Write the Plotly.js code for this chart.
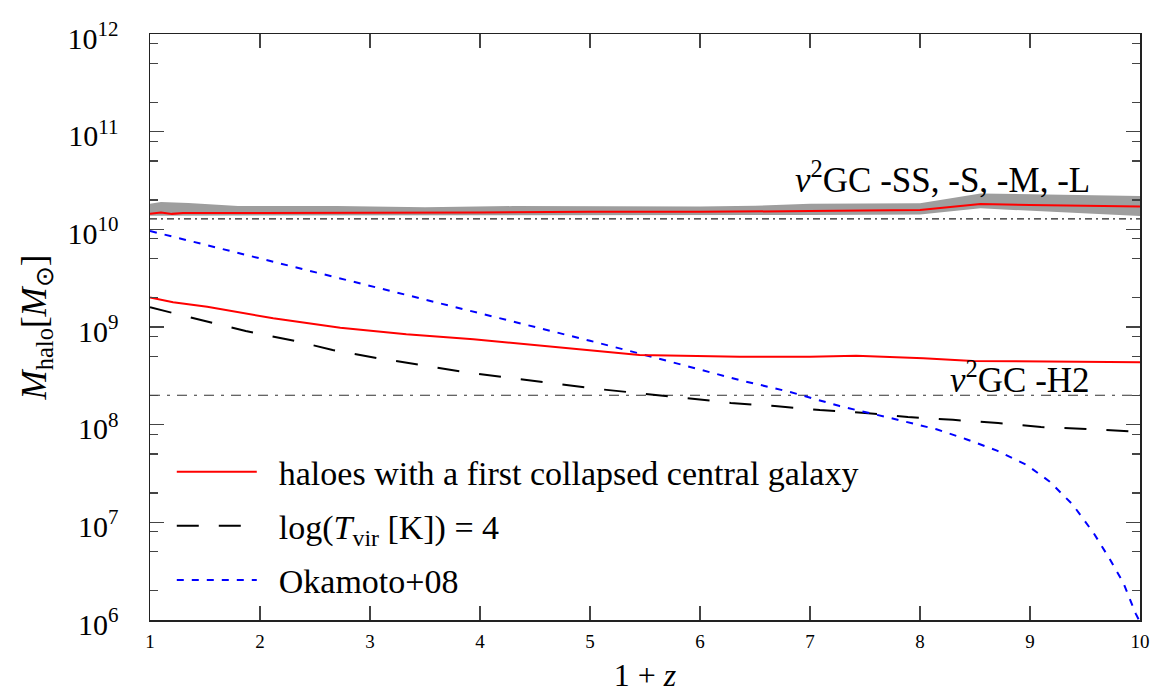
<!DOCTYPE html>
<html>
<head>
<meta charset="utf-8">
<script src="https://cdn.plot.ly/plotly-3.0.1.min.js"></script>
<style>html,body{margin:0;padding:0;background:#fff;}#chart{width:1158px;height:693px;}</style>
</head>
<body>
<div id="chart"></div>
<script>
// ---- data ----
// nu2GC -SS/-S/-M/-L spread (grey band)
const bandTopX = [1.0, 1.1, 1.35, 1.8, 2.7, 3.5, 4.3, 5.5, 6.0, 6.5, 7.0, 8.0, 8.55, 10.0];
const bandTopY = [1.83e10, 1.91e10, 1.86e10, 1.73e10, 1.73e10, 1.68e10, 1.73e10, 1.71e10, 1.71e10, 1.74e10, 1.83e10, 1.85e10, 2.33e10, 2.19e10];
const bandBotX = [1.0, 4.0, 7.0, 8.0, 8.55, 10.0];
const bandBotY = [1.38e10, 1.39e10, 1.40e10, 1.42e10, 1.64e10, 1.37e10];

// red: haloes with a first collapsed central galaxy (upper: nu2GC -SS.., lower: nu2GC -H2)
const redUpX = [1.0, 1.1, 1.2, 1.3, 2, 3, 4, 5, 6, 7, 8, 8.55, 9, 10];
const redUpY = [1.44e10, 1.49e10, 1.44e10, 1.47e10, 1.47e10, 1.47e10, 1.49e10, 1.51e10, 1.51e10, 1.54e10, 1.58e10, 1.82e10, 1.77e10, 1.71e10];
const redLoX = [1.0, 1.21, 1.52, 2.12, 2.73, 3.33, 3.94, 4.55, 5.15, 5.45, 6.36, 7.0, 7.42, 8.03, 8.48, 10.0];
const redLoY = [2.00e9, 1.79e9, 1.61e9, 1.23e9, 9.84e8, 8.41e8, 7.48e8, 6.40e8, 5.58e8, 5.16e8, 4.97e8, 4.95e8, 5.07e8, 4.79e8, 4.49e8, 4.36e8];

// black dashed: log(Tvir [K]) = 4
const tvirX = [1.0, 1.48, 1.87, 2.32, 2.66, 3.06, 3.46, 3.86, 4.27, 4.66, 5.07, 5.88, 6.28, 6.68, 7.09, 7.5, 7.89, 8.3, 8.71, 9.1, 9.51, 10.0];
const tvirY = [1.59e9, 1.18e9, 9.10e8, 7.19e8, 5.82e8, 4.82e8, 4.08e8, 3.46e8, 3.01e8, 2.67e8, 2.32e8, 1.87e8, 1.67e8, 1.55e8, 1.41e8, 1.32e8, 1.20e8, 1.12e8, 1.04e8, 9.46e7, 9.04e7, 8.41e7];

// blue dotted: Okamoto+08
const okaX = [1.0, 1.5, 2.0, 2.5, 3.0, 3.5, 4.0, 4.5, 5.0, 5.45, 5.9, 6.36, 6.82, 7.27, 7.73, 8.15, 8.42, 8.70, 8.97, 9.18, 9.39, 9.58, 9.73, 9.85, 9.96, 10.0];
const okaY = [9.62e9, 6.97e9, 5.04e9, 3.65e9, 2.64e9, 1.91e9, 1.38e9, 1.00e9, 7.23e8, 5.35e8, 3.93e8, 2.86e8, 2.16e8, 1.55e8, 1.17e8, 8.97e7, 7.10e7, 5.42e7, 3.86e7, 2.61e7, 1.51e7, 7.73e6, 4.12e6, 2.38e6, 1.17e6, 9.5e5];

// dash-dot resolution limits
const limX = [1, 10];
const limUpper = 1.28e10;
const limLower = 2.0e8;

// axis ticks
const xTicks = [1, 2, 3, 4, 5, 6, 7, 8, 9, 10];
const yTicks = [1e6, 1e7, 1e8, 1e9, 1e10, 1e11, 1e12];
const yTickText = ['10<sup>6</sup>', '10<sup>7</sup>', '10<sup>8</sup>', '10<sup>9</sup>', '10<sup>10</sup>', '10<sup>11</sup>', '10<sup>12</sup>'];
const yMinor = [2e6, 5e6, 8e6, 2e7, 5e7, 8e7, 2e8, 5e8, 8e8, 2e9, 5e9, 8e9, 2e10, 5e10, 8e10, 2e11, 5e11, 8e11];

const legendNames = ['haloes with a first collapsed central galaxy', 'log(<i>T</i><sub>vir</sub> [K]) = 4', 'Okamoto+08'];

// ---- traces ----
const FONT = 'Liberation Serif, Times New Roman, serif';
const GAP = '\u00a0\u00a0';
const traces = [
  {x: bandTopX.concat(bandBotX.slice().reverse()), y: bandTopY.concat(bandBotY.slice().reverse()),
   mode: 'lines', fill: 'toself', fillcolor: '#9e9e9e', line: {width: 0, color: '#9e9e9e'},
   showlegend: false, hoverinfo: 'skip'},
  {x: limX, y: [limUpper, limUpper], mode: 'lines', line: {color: '#222', width: 1.3, dash: '7px,4px,2px,4px'}, showlegend: false},
  {x: limX, y: [limLower, limLower], mode: 'lines', line: {color: '#333', width: 1.2, dash: '10px,7px,3px,7px'}, showlegend: false},
  {x: redUpX, y: redUpY, mode: 'lines', line: {color: '#ff0000', width: 2}, showlegend: false},
  {x: tvirX, y: tvirY, mode: 'lines', line: {color: '#000', width: 2, dash: '22px,20px'}, name: GAP + legendNames[1], legendgroup: 'b', legendrank: 2},
  {x: okaX, y: okaY, mode: 'lines', line: {color: '#0000ff', width: 2, dash: '7px,8px'}, name: GAP + legendNames[2], legendgroup: 'c', legendrank: 3},
  {x: redLoX, y: redLoY, mode: 'lines', line: {color: '#ff0000', width: 2}, name: GAP + legendNames[0], legendgroup: 'a', legendrank: 1}
];

const layout = {
  width: 1158, height: 693,
  margin: {l: 150, r: 18, t: 34, b: 73},
  paper_bgcolor: '#fff', plot_bgcolor: '#fff',
  font: {family: FONT, color: '#000'},
  showlegend: true,
  legend: {x: 0.022, y: 0.302, xanchor: 'left', yanchor: 'top', bgcolor: 'rgba(0,0,0,0)',
           font: {size: 34, family: FONT}, traceorder: 'grouped', tracegroupgap: 7, itemwidth: 80},
  xaxis: {range: [1, 10], tickmode: 'array', tickvals: xTicks, ticks: 'inside', ticklen: 14, tickwidth: 1.2,
          showline: true, linewidth: 1.5, linecolor: '#222', mirror: 'ticks', showgrid: false, zeroline: false,
          tickfont: {size: 19, family: FONT}, ticklabelstandoff: 4,
          title: {text: '1 + <i>z</i>', font: {size: 32, family: FONT}, standoff: 14}},
  yaxis: {type: 'log', range: [6, 12], tickmode: 'array', tickvals: yTicks, ticktext: yTickText,
          ticks: 'inside', ticklen: 14, tickwidth: 1.2,
          minor: {tickmode: 'array', tickvals: yMinor, ticks: 'inside', ticklen: 8, tickwidth: 1.2, showgrid: false},
          showline: true, linewidth: 1.5, linecolor: '#222', mirror: 'ticks', showgrid: false, zeroline: false,
          tickfont: {size: 30, family: FONT}, ticklabelstandoff: 24, ticklabelshift: 4,
          title: {text: '<i>M</i><sub>halo</sub>[<i>M</i><sub>⊙</sub>]', font: {size: 35, family: FONT}, standoff: 10}},
  annotations: [
    {x: 9.564, y: 10.535, xref: 'x', yref: 'y', xanchor: 'right', yanchor: 'middle', showarrow: false,
     text: '<i>ν</i><sup>2</sup>GC -SS, -S, -M, -L', font: {size: 35, family: FONT, color: '#000'}},
    {x: 9.564, y: 8.485, xref: 'x', yref: 'y', xanchor: 'right', yanchor: 'middle', showarrow: false,
     text: '<i>ν</i><sup>2</sup>GC -H2', font: {size: 35, family: FONT, color: '#000'}}
  ]
};

Plotly.newPlot('chart', traces, layout, {staticPlot: true, displayModeBar: false});
</script>
</body>
</html>
